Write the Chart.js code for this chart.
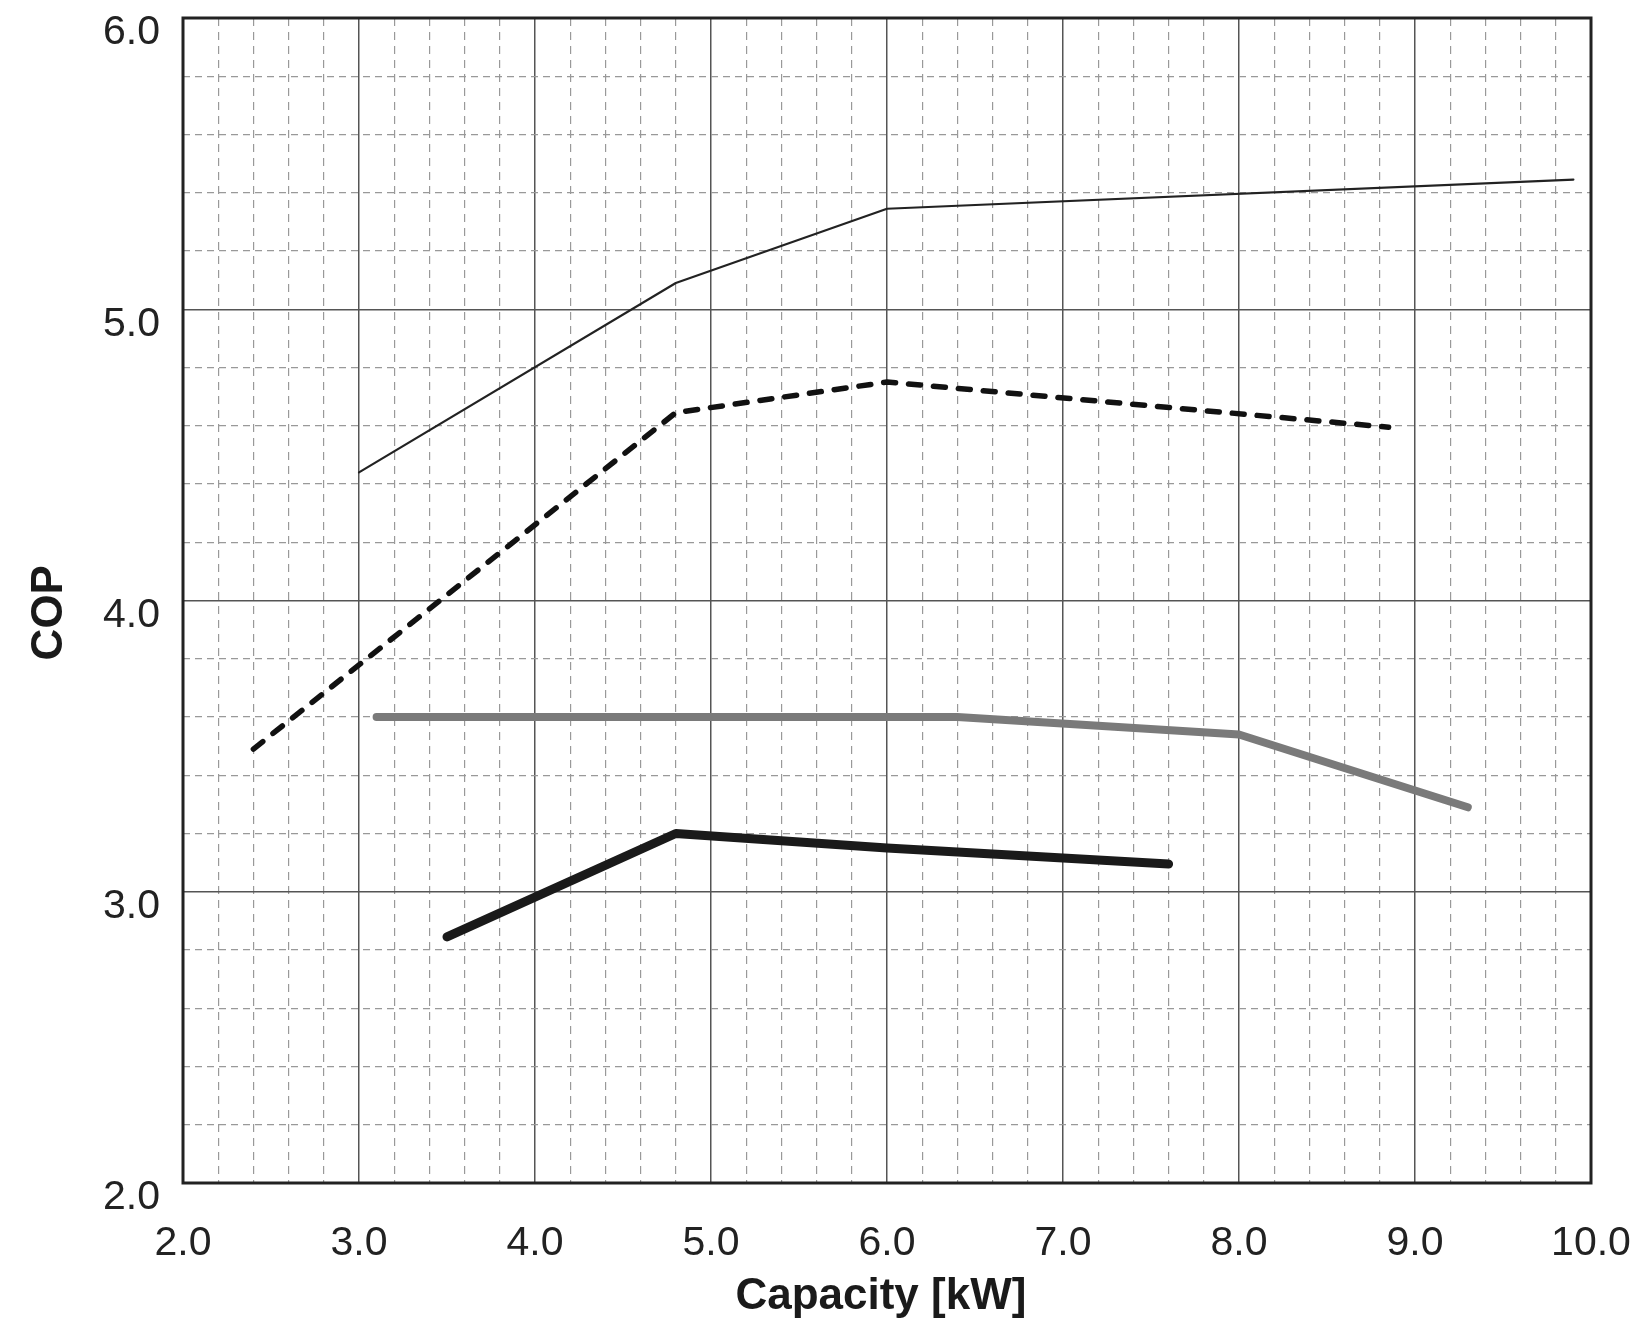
<!DOCTYPE html>
<html>
<head>
<meta charset="utf-8">
<title>COP vs Capacity</title>
<script src="https://cdn.jsdelivr.net/npm/chart.js@4.4.1/dist/chart.umd.min.js"></script>
<style>
  html, body { margin: 0; padding: 0; background: #fff; }
  canvas { display: block; }
</style>
</head>
<body>
<canvas id="copChart" width="1632" height="1320"></canvas>
<script>
// values
const thinCapacity = [3.0, 4.8, 6.0, 9.9];
const thinCop = [4.44, 5.09, 5.345, 5.445];

const dashedCapacity = [2.4, 4.8, 6.0, 8.85];
const dashedCop = [3.49, 4.645, 4.75, 4.595];

const greyCapacity = [3.1, 6.4, 8.0, 9.3];
const greyCop = [3.6, 3.6, 3.54, 3.29];

const heavyCapacity = [3.5, 4.8, 6.0, 7.6];
const heavyCop = [2.845, 3.2, 3.15, 3.095];

const xRange = [2.0, 10.0];
const yRange = [2.0, 6.0];
const majorStep = 1;
const minorStep = 0.2;

const FONT = "'Liberation Sans', Arial, Helvetica, sans-serif";

function toPoints(xs, ys) {
    return xs.map((x, i) => ({ x: x, y: ys[i] }));
}

function isMajor(v) {
    return Math.abs(v - Math.round(v)) < 1e-6;
}

// keep the plot box where the layout padding puts it
function fixSize(w, h) {
    return function (scale) {
        if (w !== null) scale.width = w;
        if (h !== null) scale.height = h;
        scale.paddingTop = 0;
        scale.paddingBottom = 0;
        scale.paddingLeft = 0;
        scale.paddingRight = 0;
    };
}

// thick frame round the plot area
const framePlugin = {
    id: "frame",
    afterDraw(chart) {
        const { ctx, chartArea } = chart;
        ctx.save();
        ctx.strokeStyle = "#222";
        ctx.lineWidth = 3;
        ctx.strokeRect(chartArea.left, chartArea.top,
            chartArea.right - chartArea.left, chartArea.bottom - chartArea.top);
        ctx.restore();
    }
};

const lineBase = {
    pointRadius: 0,
    pointHoverRadius: 0,
    tension: 0,
    fill: false,
    borderCapStyle: "round",
    borderJoinStyle: "round"
};

new Chart(document.getElementById("copChart"), {
    type: "line",
    data: {
        datasets: [
            Object.assign({}, lineBase, {
                label: "A",
                data: toPoints(thinCapacity, thinCop),
                borderColor: "#222",
                borderWidth: 2.2
            }),
            Object.assign({}, lineBase, {
                label: "B",
                data: toPoints(dashedCapacity, dashedCop),
                borderColor: "#111",
                borderWidth: 5.5,
                borderDash: [12, 13]
            }),
            Object.assign({}, lineBase, {
                label: "C",
                data: toPoints(greyCapacity, greyCop),
                borderColor: "#7a7a7a",
                borderWidth: 8
            }),
            Object.assign({}, lineBase, {
                label: "D",
                data: toPoints(heavyCapacity, heavyCop),
                borderColor: "#1a1a1a",
                borderWidth: 9
            })
        ]
    },
    options: {
        responsive: false,
        animation: false,
        devicePixelRatio: 1,
        layout: { padding: { top: 18, right: 41, bottom: 0, left: 0 } },
        plugins: {
            legend: { display: false },
            tooltip: { enabled: false }
        },
        scales: {
            x: {
                type: "linear",
                position: "bottom",
                min: xRange[0],
                max: xRange[1],
                afterFit: fixSize(null, 137),
                ticks: {
                    stepSize: majorStep,
                    padding: 36,
                    color: "#222",
                    font: { family: FONT, size: 41 },
                    maxRotation: 0,
                    callback: v => Number(v).toFixed(1)
                },
                grid: { color: "#555", lineWidth: 1.5, drawTicks: false },
                border: { display: false },
                title: {
                    display: true,
                    text: "Capacity [kW] ",
                    color: "#1a1a1a",
                    font: { family: FONT, size: 44, weight: "bold" },
                    padding: { top: 0, bottom: -3 }
                }
            },
            xMinor: {
                type: "linear",
                position: "bottom",
                min: xRange[0],
                max: xRange[1],
                afterFit: fixSize(null, 0),
                ticks: { display: false, stepSize: minorStep },
                grid: {
                    color: ctx => isMajor(ctx.tick.value) ? "rgba(0,0,0,0)" : "#999",
                    lineWidth: 1.2,
                    drawTicks: false
                },
                border: { display: false, dash: [8, 6] }
            },
            y: {
                type: "linear",
                position: "left",
                min: yRange[0],
                max: yRange[1],
                afterFit: fixSize(183, null),
                ticks: {
                    stepSize: majorStep,
                    padding: 23,
                    labelOffset: 15,
                    color: "#222",
                    font: { family: FONT, size: 41, lineHeight: 0.9 },
                    callback: v => Number(v).toFixed(1)
                },
                grid: { color: "#555", lineWidth: 1.5, drawTicks: false },
                border: { display: false },
                title: {
                    display: true,
                    text: "COP  ",
                    color: "#1a1a1a",
                    font: { family: FONT, size: 44, weight: "bold" },
                    padding: { top: 23, bottom: 0 }
                }
            },
            yMinor: {
                type: "linear",
                position: "left",
                min: yRange[0],
                max: yRange[1],
                afterFit: fixSize(0, null),
                ticks: { display: false, stepSize: minorStep },
                grid: {
                    color: ctx => isMajor(ctx.tick.value) ? "rgba(0,0,0,0)" : "#999",
                    lineWidth: 1.2,
                    drawTicks: false
                },
                border: { display: false, dash: [7, 5] }
            }
        }
    },
    plugins: [framePlugin]
});
</script>
</body>
</html>
